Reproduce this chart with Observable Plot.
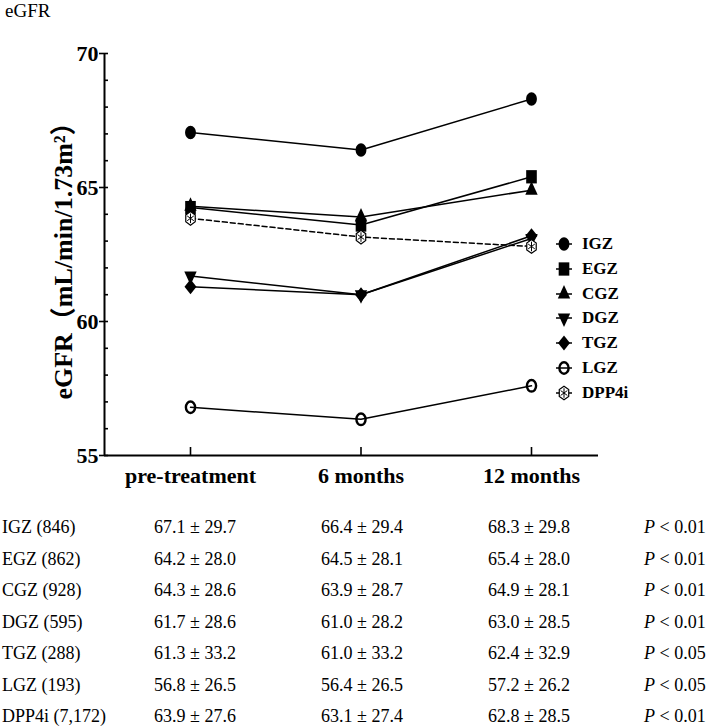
<!DOCTYPE html>
<html><head><meta charset="utf-8">
<script src="https://cdn.jsdelivr.net/npm/d3@7"></script>
<script src="https://cdn.jsdelivr.net/npm/@observablehq/plot@0.6"></script>
<style>
body{margin:0;background:#fff;}
#wrap{position:relative;width:708px;height:727px;font-family:"Liberation Serif","Times New Roman",serif;color:#000;overflow:hidden;}
#title{position:absolute;left:5px;top:0px;font-size:19px;line-height:22px;}
#chart{position:absolute;left:0;top:0;}
.leg{position:absolute;left:552px;height:20px;line-height:20px;font-size:17px;font-weight:bold;white-space:nowrap;}
.leg svg{position:absolute;left:0;top:0;}
.leg span{position:absolute;left:30px;top:0;}
.row{position:absolute;left:0;height:20px;line-height:20px;font-size:18px;white-space:nowrap;width:708px;}
.row span{position:absolute;top:0;}
</style></head><body><div id="wrap"><div id="title">eGFR</div><div id="chart"></div></div>
<script>
// ---- data ----
const timepoints = ["pre-treatment", "6 months", "12 months"];
const groups = ["IGZ", "EGZ", "CGZ", "DGZ", "TGZ", "LGZ", "DPP4i"];
const IGZ = [67.05, 66.4, 68.3];
const EGZ = [64.25, 63.6, 65.4];
const CGZ = [64.3, 63.9, 64.9];
const DGZ = [61.7, 61.0, 63.1];
const TGZ = [61.3, 61.0, 63.2];
const LGZ = [56.8, 56.35, 57.6];
const DPP4i = [63.85, 63.15, 62.8];
const yTicks = [55, 60, 65, 70];
const yMinorTicks = d3.range(55, 71);
const yTitle = "eGFR（mL/min/1.73m²）";

const tableLabels = ["IGZ (846)", "EGZ (862)", "CGZ (928)", "DGZ (595)", "TGZ (288)", "LGZ (193)", "DPP4i (7,172)"];
const tablePre = ["67.1 ± 29.7", "64.2 ± 28.0", "64.3 ± 28.6", "61.7 ± 28.6", "61.3 ± 33.2", "56.8 ± 26.5", "63.9 ± 27.6"];
const table6m = ["66.4 ± 29.4", "64.5 ± 28.1", "63.9 ± 28.7", "61.0 ± 28.2", "61.0 ± 33.2", "56.4 ± 26.5", "63.1 ± 27.4"];
const table12m = ["68.3 ± 29.8", "65.4 ± 28.0", "64.9 ± 28.1", "63.0 ± 28.5", "62.4 ± 32.9", "57.2 ± 26.2", "62.8 ± 28.5"];
const tableP = ["0.01", "0.01", "0.01", "0.01", "0.05", "0.05", "0.01"];

const seriesValues = {IGZ, EGZ, CGZ, DGZ, TGZ, LGZ, DPP4i};
const data = groups.flatMap(g => seriesValues[g].map((v, i) => ({group: g, t: i, v})));

// ---- symbols ----
function ellipse(ctx, cx, cy, rx, ry) {
  const k = 0.5523;
  ctx.moveTo(cx + rx, cy);
  ctx.bezierCurveTo(cx + rx, cy + k * ry, cx + k * rx, cy + ry, cx, cy + ry);
  ctx.bezierCurveTo(cx - k * rx, cy + ry, cx - rx, cy + k * ry, cx - rx, cy);
  ctx.bezierCurveTo(cx - rx, cy - k * ry, cx - k * rx, cy - ry, cx, cy - ry);
  ctx.bezierCurveTo(cx + k * rx, cy - ry, cx + rx, cy - k * ry, cx + rx, cy);
  ctx.closePath();
}
function stretched(base, sx, sy) {
  return {draw(ctx, size) {
    const p = {
      moveTo: (x, y) => ctx.moveTo(x * sx, y * sy),
      lineTo: (x, y) => ctx.lineTo(x * sx, y * sy),
      closePath: () => ctx.closePath(),
      rect: (x, y, w, h) => { ctx.moveTo(x * sx, y * sy); ctx.lineTo((x + w) * sx, y * sy); ctx.lineTo((x + w) * sx, (y + h) * sy); ctx.lineTo(x * sx, (y + h) * sy); ctx.closePath(); },
      arc: (x, y, r) => ellipse(ctx, x * sx, y * sy, Math.abs(r * sx), Math.abs(r * sy))
    };
    base.draw(p, size);
  }};
}
const hexBase = {draw(ctx, size) {
  const r = Math.sqrt(size / Math.PI) * 1.05;
  for (let k = 0; k < 6; ++k) {
    const a = Math.PI / 2 + k * Math.PI / 3;
    const x = r * Math.cos(a), y = r * Math.sin(a);
    if (k === 0) ctx.moveTo(x, y); else ctx.lineTo(x, y);
  }
  ctx.closePath();
}};
const SY = 1.25;
const symCircle = stretched(d3.symbolCircle, 1, SY);
const symSquare = stretched(d3.symbolSquare, 1, SY);
const symTri = stretched(d3.symbolTriangle, 1, SY);
const symTriDown = stretched(d3.symbolTriangle, 1, -SY);
const symDiamond = stretched(d3.symbolDiamond2, 1, SY);
const symHex = stretched(hexBase, 1, SY);
const symAst = stretched(d3.symbolAsterisk, 1, SY);

const styles = {
  IGZ:   [{symbol: symCircle, r: 5.4, fill: "black", stroke: "none"}],
  EGZ:   [{symbol: symSquare, r: 6.0, fill: "black", stroke: "none"}],
  CGZ:   [{symbol: symTri, r: 4.6, fill: "black", stroke: "none"}],
  DGZ:   [{symbol: symTriDown, r: 4.6, fill: "black", stroke: "none"}],
  TGZ:   [{symbol: symDiamond, r: 5.4, fill: "black", stroke: "none"}],
  LGZ:   [{symbol: symCircle, r: 4.6, fill: "none", stroke: "black", strokeWidth: 2.4}],
  DPP4i: [{symbol: symHex, r: 5.2, fill: "white", stroke: "black", strokeWidth: 1.2},
          {symbol: symAst, r: 3.6, fill: "none", stroke: "black", strokeWidth: 1}]
};

// ---- chart ----
const W = 708, H = 500, ML = 104, MR = 110, MT = 53, MB = 45;
const frameW = W - ML - MR, frameH = H - MT - MB;
const xDomain = [-0.5044, 2.393];
const marks = [
  // inward minor ticks on the y axis
  Plot.tickY(yMinorTicks, {y: d => d, insetRight: frameW - 4, strokeWidth: 1.6}),
  // outward major ticks with labels
  Plot.axisY(yTicks, {tickSize: 5, tickPadding: 1, fontSize: 22, fontWeight: "bold", strokeWidth: 1.6, label: null}),
  // inward x ticks
  Plot.tickX([0, 1, 2], {x: d => d, insetTop: frameH - 8, strokeWidth: 1.6}),
  Plot.axisX([0, 1, 2], {tickSize: 0, tickPadding: 12, tickFormat: i => timepoints[i], fontSize: 22, fontWeight: "bold", label: null}),
  Plot.ruleX([xDomain[0]], {strokeWidth: 2}),
  Plot.ruleY([55], {strokeWidth: 2}),
  Plot.text([yTitle], {text: d => d, frameAnchor: "left", textAnchor: "middle", dx: -41, rotate: -90, fontSize: 26, fontWeight: "bold"})
];
for (const g of groups) {
  marks.push(Plot.line(data.filter(d => d.group === g), {x: "t", y: "v", stroke: "black", strokeWidth: 1.5,
    strokeDasharray: g === "DPP4i" ? "5,3" : null}));
}
for (const g of groups) {
  for (const s of styles[g]) {
    marks.push(Plot.dot(data.filter(d => d.group === g), {x: "t", y: "v", ...s}));
  }
}
const chart = Plot.plot({
  width: W, height: H,
  marginLeft: ML, marginRight: MR, marginTop: MT, marginBottom: MB,
  style: {fontFamily: "'Liberation Serif','Noto Sans CJK SC',serif", background: "transparent", overflow: "visible", color: "black"},
  x: {domain: xDomain, label: null},
  y: {domain: [55, 70], label: null},
  marks
});
document.getElementById("chart").appendChild(chart);

// ---- legend ----
const wrap = document.getElementById("wrap");
const legY0 = 244, legStep = 24.8;
groups.forEach((g, i) => {
  const div = document.createElement("div");
  div.className = "leg";
  div.style.top = (legY0 + i * legStep - 10) + "px";
  const svg = d3.create("svg").attr("width", 28).attr("height", 20);
  const gg = svg.append("g").attr("transform", "translate(12,10)");
  gg.append("line").attr("x1", -8).attr("x2", 8).attr("stroke", "black").attr("stroke-width", 1.5);
  for (const s of styles[g]) {
    gg.append("path").attr("d", d3.symbol(s.symbol, Math.PI * s.r * s.r)())
      .attr("fill", s.fill).attr("stroke", s.stroke).attr("stroke-width", s.strokeWidth || 0);
  }
  div.appendChild(svg.node());
  const sp = document.createElement("span");
  sp.textContent = g;
  div.appendChild(sp);
  wrap.appendChild(div);
});

// ---- table ----
const rowY0 = 527, rowStep = 31.5;
const cols = [2, 154, 321, 488, 644];
tableLabels.forEach((lab, i) => {
  const div = document.createElement("div");
  div.className = "row";
  div.style.top = (rowY0 + i * rowStep - 10) + "px";
  const cells = [lab, tablePre[i], table6m[i], table12m[i], null];
  cells.forEach((c, j) => {
    const sp = document.createElement("span");
    sp.style.left = cols[j] + "px";
    if (j === 4) sp.innerHTML = "<i>P</i> &lt; " + tableP[i];
    else sp.textContent = c;
    div.appendChild(sp);
  });
  wrap.appendChild(div);
});
</script></body></html>
